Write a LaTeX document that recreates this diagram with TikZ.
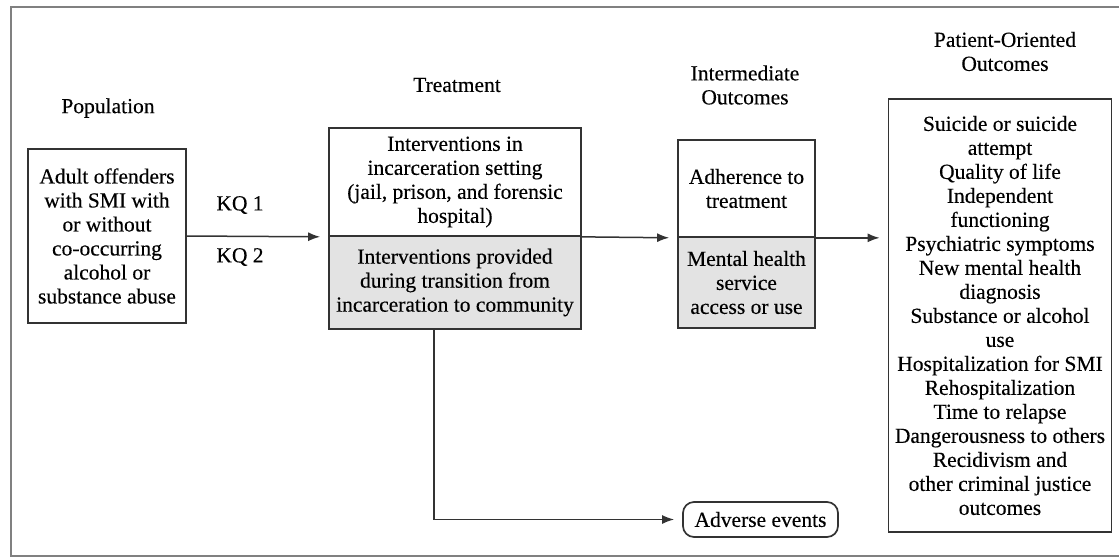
\documentclass[tikz,border=0pt]{standalone}
\usepackage{fontspec}
\setmainfont{Liberation Serif}[FakeBold=0.3]
\usetikzlibrary{arrows.meta}
\begin{document}
\begin{tikzpicture}[x=1pt,y=-1pt,
  every node/.style={font=\fontsize{21.5pt}{24pt}\selectfont, text=black, align=center, inner sep=0pt},
  box/.style={draw=black!80, line width=1.7pt, rectangle},
  graybox/.style={box, fill=black!11},
  lbl/.style={},
  arr/.style={draw=black!80, line width=1.5pt, -{Latex[length=12pt,width=9pt]}, shorten >=8pt}
]
\useasboundingbox (0,0) rectangle (1119,558);
% outer frame
\draw[draw=black!50, line width=2.5pt] (1130,7) -- (11,7) -- (11,556) -- (1130,556);

% headings
\node[lbl] (hpop) at (108,108) {Population};
\node[lbl] (htreat) at (457,85) {Treatment};
\node[lbl] (hint) at (745,85) {Intermediate\\Outcomes};
\node[lbl] (hout) at (1005,51.5) {Patient-Oriented\\Outcomes};

% boxes
\node[box, minimum width=158pt, minimum height=174pt] (pop) at (107,236)
  {Adult offenders\\with SMI with\\or without\\co-occurring\\alcohol or\\substance abuse};
\node[box, minimum width=252pt, minimum height=108pt] (t1) at (455,182)
  {Interventions in\\incarceration setting\\(jail, prison, and forensic\\hospital)};
\node[graybox, minimum width=252pt, minimum height=93pt] (t2) at (455,282.5)
  {Interventions provided\\during transition from\\incarceration to community};
\node[box, minimum width=137pt, minimum height=97pt] (i1) at (746.5,188.5)
  {Adherence to\\treatment};
\node[graybox, minimum width=137pt, minimum height=91pt] (i2) at (746.5,282.5)
  {Mental health\\service\\access or use};
\node[box, minimum width=223pt, minimum height=433pt] (out) at (1000,315.5)
  {Suicide or suicide\\attempt\\Quality of life\\Independent\\functioning\\Psychiatric symptoms\\New mental health\\diagnosis\\Substance or alcohol\\use\\Hospitalization for SMI\\Rehospitalization\\Time to relapse\\Dangerousness to others\\Recidivism and\\other criminal justice\\outcomes};
\node[box, rounded corners=11pt, minimum width=155pt, minimum height=35pt] (adv) at (760.5,519.5)
  {Adverse events};

% KQ labels
\node[lbl] (kq1) at (240,205) {KQ 1};
\node[lbl] (kq2) at (240,257) {KQ 2};

% connectors
\draw[arr] (pop.east) -- (t1.south west);
\draw[arr] (t1.south east) -- (i1.south west);
\draw[arr] (i1.south east) -- (i1.south east -| out.west);
\draw[arr] (t2.south west) ++(106,0) |- (adv.west);
\end{tikzpicture}
\end{document}
